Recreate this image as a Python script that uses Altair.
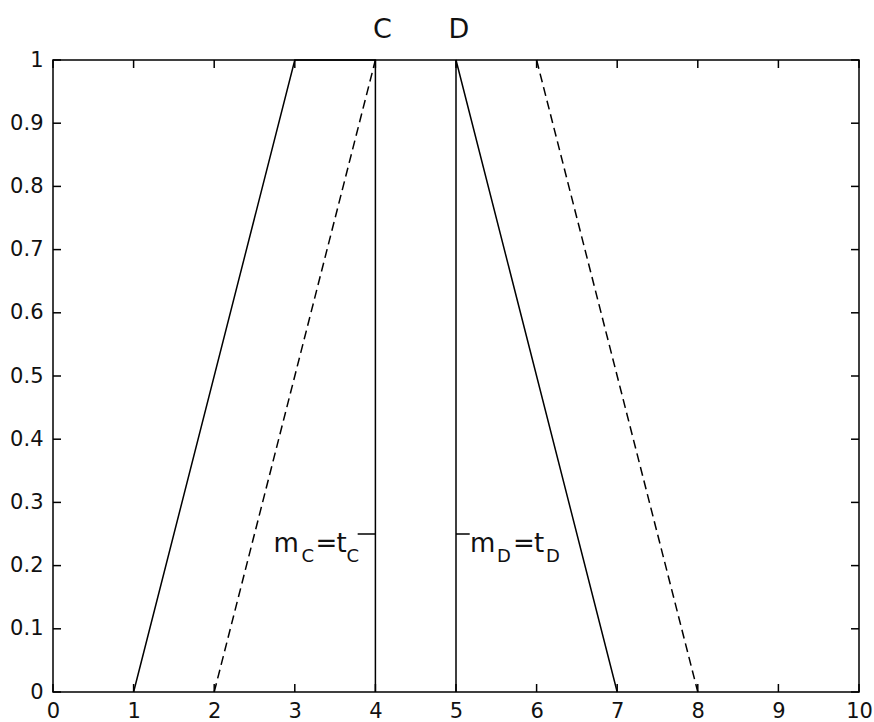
import altair as alt
import pandas as pd

# Axis tick values
x_ticks = [0, 1, 2, 3, 4, 5, 6, 7, 8, 9, 10]
y_ticks = [0, 0.1, 0.2, 0.3, 0.4, 0.5, 0.6, 0.7, 0.8, 0.9, 1]

# Membership functions for C and D (solid: inner, dashed: outer)
c_solid_x = [1, 3, 4, 4]
c_solid_y = [0, 1, 1, 0]
c_dash_x = [2, 4]
c_dash_y = [0, 1]
d_solid_x = [5, 5, 7]
d_solid_y = [0, 1, 0]
d_dash_x = [6, 8]
d_dash_y = [1, 0]

# Annotation marks m=t
mc_point = (4, 0.25)
mc_rule_start = 3.78
md_point = (5, 0.25)
md_rule_end = 5.17

FONT = "DejaVu Sans"
W, H = 806, 632


def seg(xs, ys, name):
    return pd.DataFrame({"x": xs, "y": ys, "series": name, "order": range(len(xs))})


solid_df = pd.concat([seg(c_solid_x, c_solid_y, "C"), seg(d_solid_x, d_solid_y, "D")])
dash_df = pd.concat([seg(c_dash_x, c_dash_y, "C"), seg(d_dash_x, d_dash_y, "D")])

xscale = alt.Scale(domain=[0, 10], nice=False, zero=False)
yscale = alt.Scale(domain=[0, 1], nice=False, zero=False)

xaxis = alt.Axis(values=x_ticks, format="d", title=None, grid=False, ticks=False,
                 tickSize=0, domain=False, labelFont=FONT, labelFontSize=21,
                 labelColor="#111", labelPadding=8, labelFlush=False)
yaxis = alt.Axis(values=y_ticks, format=".1~f", title=None, grid=False, ticks=False,
                 tickSize=0, domain=False, labelFont=FONT, labelFontSize=21,
                 labelColor="#111", labelPadding=10, labelFlush=False)

solid = alt.Chart(solid_df).mark_line(color="black", strokeWidth=1.5).encode(
    x=alt.X("x:Q", scale=xscale, axis=xaxis),
    y=alt.Y("y:Q", scale=yscale, axis=yaxis),
    detail="series:N",
    order="order:Q",
)

dashed = alt.Chart(dash_df).mark_line(color="black", strokeWidth=1.5, strokeDash=[9, 5]).encode(
    x=alt.X("x:Q", scale=xscale),
    y=alt.Y("y:Q", scale=yscale),
    detail="series:N",
    order="order:Q",
)

# Inward tick marks on all four sides
xt = pd.DataFrame({"v": x_ticks})
yt = pd.DataFrame({"v": y_ticks})
TL = 8
ticks_bottom = alt.Chart(xt).mark_rule(color="black", strokeWidth=1.5).encode(
    x=alt.X("v:Q", scale=xscale), y=alt.value(H), y2=alt.value(H - TL))
ticks_top = alt.Chart(xt).mark_rule(color="black", strokeWidth=1.5).encode(
    x=alt.X("v:Q", scale=xscale), y=alt.value(0), y2=alt.value(TL))
ticks_left = alt.Chart(yt).mark_rule(color="black", strokeWidth=1.5).encode(
    y=alt.Y("v:Q", scale=yscale), x=alt.value(0), x2=alt.value(TL))
ticks_right = alt.Chart(yt).mark_rule(color="black", strokeWidth=1.5).encode(
    y=alt.Y("v:Q", scale=yscale), x=alt.value(W), x2=alt.value(W - TL))

# Short leader lines for the m=t annotations
leaders = alt.Chart(pd.DataFrame({
    "x": [mc_rule_start, md_point[0]],
    "x2": [mc_point[0], md_rule_end],
    "y": [mc_point[1], md_point[1]],
})).mark_rule(color="black", strokeWidth=1.5).encode(
    x=alt.X("x:Q", scale=xscale), x2="x2:Q", y=alt.Y("y:Q", scale=yscale))

# Set labels above the plot
set_labels = []
for name, xv, dx in [("C", 4, 7), ("D", 5, 3)]:
    set_labels.append(
        alt.Chart(pd.DataFrame({"x": [xv], "t": [name]})).mark_text(
            font=FONT, fontSize=27, color="#111", align="center",
            baseline="alphabetic", dx=dx
        ).encode(x=alt.X("x:Q", scale=xscale), y=alt.value(-22), text="t:N")
    )

# Piecewise text with subscripts: (text, dx, dy, size)
mc_pieces = [("m", -102, 18, 26), ("C", -74, 28, 18), ("=", -60, 18, 26),
             ("t", -39, 18, 26), ("C", -29, 28, 18)]
md_pieces = [("m", 14, 18, 26), ("D", 41, 28, 18), ("=", 57, 18, 26),
             ("t", 78, 18, 26), ("D", 90, 28, 18)]

ann_layers = []
for (px, py), pieces in [(mc_point, mc_pieces), (md_point, md_pieces)]:
    for txt, dx, dy, size in pieces:
        ann_layers.append(
            alt.Chart(pd.DataFrame({"x": [px], "y": [py], "t": [txt]})).mark_text(
                font=FONT, fontSize=size, color="#111", align="left",
                baseline="alphabetic", dx=dx, dy=dy
            ).encode(x=alt.X("x:Q", scale=xscale), y=alt.Y("y:Q", scale=yscale), text="t:N")
        )

chart = alt.layer(
    solid, dashed, ticks_bottom, ticks_top, ticks_left, ticks_right, leaders,
    *set_labels, *ann_layers
).properties(
    width=W, height=H,
    autosize=alt.AutoSizeParams(type="none"),
    padding={"left": 53, "top": 60, "right": 15, "bottom": 30},
    background="white",
).configure_view(stroke="black", strokeWidth=1.5)

chart.save("out.html", embed_options={"renderer": "svg", "actions": False})
